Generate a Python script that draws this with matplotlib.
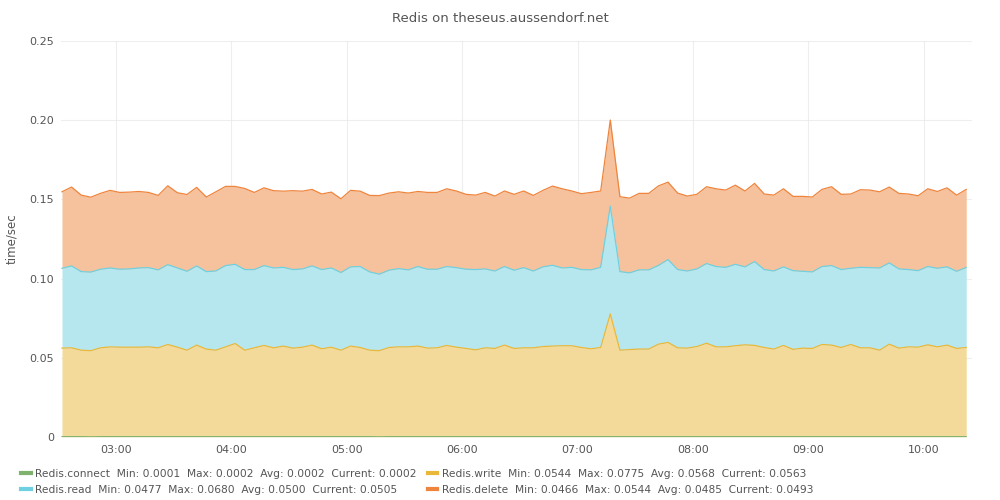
import numpy as np
import pandas as pd
import matplotlib
matplotlib.use('Agg')
import matplotlib.pyplot as plt
import matplotlib.dates as mdates
from matplotlib.lines import Line2D

# 5-minute samples, 02:32 .. 10:22
times = pd.date_range('2024-01-01 02:32', periods=95, freq='5min')

connect = [0.0002, 0.0002, 0.0002, 0.0001, 0.0002, 0.0002, 0.0002, 0.0002, 0.0002, 0.0002,
           0.0002, 0.0002, 0.0002, 0.0002, 0.0002, 0.0002, 0.0002, 0.0002, 0.0002, 0.0002,
           0.0002, 0.0002, 0.0002, 0.0002, 0.0002, 0.0002, 0.0002, 0.0002, 0.0002, 0.0002,
           0.0002, 0.0002, 0.0002, 0.0001, 0.0002, 0.0002, 0.0002, 0.0002, 0.0002, 0.0002,
           0.0002, 0.0002, 0.0002, 0.0002, 0.0002, 0.0002, 0.0002, 0.0002, 0.0002, 0.0002,
           0.0002, 0.0002, 0.0002, 0.0002, 0.0002, 0.0002, 0.0002, 0.0002, 0.0002, 0.0002,
           0.0002, 0.0002, 0.0002, 0.0002, 0.0002, 0.0002, 0.0002, 0.0002, 0.0002, 0.0002,
           0.0002, 0.0002, 0.0002, 0.0002, 0.0002, 0.0002, 0.0002, 0.0002, 0.0002, 0.0002,
           0.0002, 0.0002, 0.0002, 0.0002, 0.0002, 0.0002, 0.0002, 0.0002, 0.0002, 0.0002,
           0.0002, 0.0002, 0.0002, 0.0002, 0.0002]

write = [0.0559, 0.0561, 0.0546, 0.0544, 0.0561, 0.0567, 0.0565, 0.0565, 0.0565, 0.0567,
         0.0561, 0.0582, 0.0565, 0.0546, 0.0578, 0.0553, 0.0546, 0.0567, 0.0588, 0.0546,
         0.0561, 0.0576, 0.0561, 0.0572, 0.0559, 0.0565, 0.0578, 0.0555, 0.0565, 0.0546,
         0.0572, 0.0563, 0.0546, 0.0544, 0.0563, 0.0567, 0.0567, 0.0572, 0.0559, 0.0561,
         0.0576, 0.0565, 0.0557, 0.0548, 0.0561, 0.0557, 0.0578, 0.0557, 0.0561, 0.0561,
         0.0569, 0.0572, 0.0574, 0.0574, 0.0563, 0.0555, 0.0563, 0.0775, 0.0546, 0.0550,
         0.0553, 0.0553, 0.0584, 0.0595, 0.0561, 0.0559, 0.0569, 0.0590, 0.0567, 0.0567,
         0.0574, 0.0580, 0.0576, 0.0563, 0.0553, 0.0576, 0.0551, 0.0559, 0.0557, 0.0582,
         0.0578, 0.0563, 0.0582, 0.0561, 0.0561, 0.0546, 0.0584, 0.0559, 0.0567, 0.0565,
         0.0580, 0.0567, 0.0578, 0.0557, 0.0563]

read = [0.0504, 0.0517, 0.0496, 0.0496, 0.0496, 0.0498, 0.0492, 0.0494, 0.0500, 0.0500,
        0.0492, 0.0504, 0.0500, 0.0498, 0.0500, 0.0489, 0.0500, 0.0513, 0.0500, 0.0509,
        0.0494, 0.0504, 0.0504, 0.0497, 0.0496, 0.0494, 0.0500, 0.0500, 0.0500, 0.0490,
        0.0500, 0.0511, 0.0494, 0.0483, 0.0488, 0.0494, 0.0486, 0.0502, 0.0498, 0.0496,
        0.0498, 0.0502, 0.0500, 0.0507, 0.0498, 0.0489, 0.0496, 0.0494, 0.0506, 0.0485,
        0.0503, 0.0510, 0.0491, 0.0495, 0.0492, 0.0498, 0.0506, 0.0680, 0.0496, 0.0484,
        0.0500, 0.0500, 0.0497, 0.0523, 0.0494, 0.0487, 0.0490, 0.0503, 0.0507, 0.0502,
        0.0514, 0.0492, 0.0529, 0.0492, 0.0493, 0.0496, 0.0497, 0.0485, 0.0483, 0.0492,
        0.0502, 0.0492, 0.0481, 0.0508, 0.0506, 0.0519, 0.0513, 0.0500, 0.0488, 0.0483,
        0.0494, 0.0496, 0.0494, 0.0487, 0.0505]

delete = [0.0483, 0.0498, 0.0483, 0.0473, 0.0479, 0.0490, 0.0485, 0.0485, 0.0483, 0.0475,
          0.0470, 0.0498, 0.0475, 0.0485, 0.0496, 0.0471, 0.0500, 0.0500, 0.0492, 0.0512,
          0.0487, 0.0491, 0.0488, 0.0481, 0.0498, 0.0491, 0.0483, 0.0477, 0.0479, 0.0466,
          0.0483, 0.0476, 0.0483, 0.0496, 0.0487, 0.0485, 0.0485, 0.0474, 0.0485, 0.0485,
          0.0491, 0.0484, 0.0473, 0.0470, 0.0483, 0.0473, 0.0477, 0.0479, 0.0484, 0.0477,
          0.0483, 0.0500, 0.0500, 0.0482, 0.0479, 0.0489, 0.0482, 0.0544, 0.0473, 0.0472,
          0.0483, 0.0483, 0.0502, 0.0489, 0.0483, 0.0473, 0.0471, 0.0485, 0.0491, 0.0488,
          0.0500, 0.0479, 0.0494, 0.0477, 0.0479, 0.0493, 0.0469, 0.0473, 0.0473, 0.0487,
          0.0498, 0.0475, 0.0469, 0.0490, 0.0490, 0.0481, 0.0479, 0.0477, 0.0477, 0.0473,
          0.0491, 0.0485, 0.0499, 0.0481, 0.0493]

series_names = ['Redis.connect', 'Redis.write', 'Redis.read', 'Redis.delete']
line_colors = ['#7eb26d', '#eab839', '#6ed0e0', '#ef843c']
fill_colors = ['#cfe6c6', '#f4da9a', '#b7e7ee', '#f5c29d']
stats = {
    'Redis.connect': ('0.0001', '0.0002', '0.0002', '0.0002'),
    'Redis.write': ('0.0544', '0.0775', '0.0568', '0.0563'),
    'Redis.read': ('0.0477', '0.0680', '0.0500', '0.0505'),
    'Redis.delete': ('0.0466', '0.0544', '0.0485', '0.0493'),
}

text_col = '#555555'
grid_col = '#e4e4e4'

fig = plt.figure(figsize=(10, 5), dpi=100)
ax = fig.add_axes([0.061, 0.126, 0.911, 0.792])

values = [np.array(connect), np.array(write), np.array(read), np.array(delete)]
bottom = np.zeros(len(times))
for vals, lc, fc in zip(values, line_colors, fill_colors):
    top = bottom + vals
    ax.fill_between(times, bottom, top, color=fc, linewidth=0, zorder=2)
    ax.plot(times, top, color=lc, linewidth=0.9, zorder=3)
    bottom = top

ax.set_ylim(0, 0.25)
ax.set_yticks([0, 0.05, 0.10, 0.15, 0.20, 0.25])
ax.set_yticklabels(['0', '0.05', '0.10', '0.15', '0.20', '0.25'])
ax.set_xlim(pd.Timestamp('2024-01-01 02:31:30'), pd.Timestamp('2024-01-01 10:25'))
ax.xaxis.set_major_locator(mdates.HourLocator())
ax.xaxis.set_major_formatter(mdates.DateFormatter('%H:%M'))

ax.grid(True, color=grid_col, linewidth=0.8, zorder=0)
for gl in ax.get_xgridlines() + ax.get_ygridlines():
    gl.set_zorder(2.5)
    gl.set_alpha(0.6)
for s in ax.spines.values():
    s.set_visible(False)
ax.tick_params(length=0, labelsize=8, colors=text_col, pad=5)
ax.tick_params(axis='x', pad=6)

ax.set_ylabel('time/sec', fontsize=8.5, color=text_col, labelpad=8)
fig.text(0.5, 0.963, 'Redis on theseus.aussendorf.net', ha='center', va='center',
         fontsize=9.5, color=text_col)

# legend, two rows: connect/write, read/delete
handles = [Line2D([0], [0], color=c, linewidth=3) for c in line_colors]
labels = []
for name in series_names:
    mn, mx, avg, cur = stats[name]
    labels.append(f'{name}  Min: {mn}  Max: {mx}  Avg: {avg}  Current: {cur}')
order = [0, 2, 1, 3]
leg = fig.legend([handles[i] for i in order], [labels[i] for i in order],
                 loc='upper left', bbox_to_anchor=(0.021, 0.062), ncol=2, frameon=False,
                 fontsize=7.7, handlelength=0.9, handletextpad=0.45, columnspacing=1.0,
                 labelspacing=0.55, borderaxespad=0, borderpad=0)
for t in leg.get_texts():
    t.set_color(text_col)

fig.savefig('out.png', dpi=100)
